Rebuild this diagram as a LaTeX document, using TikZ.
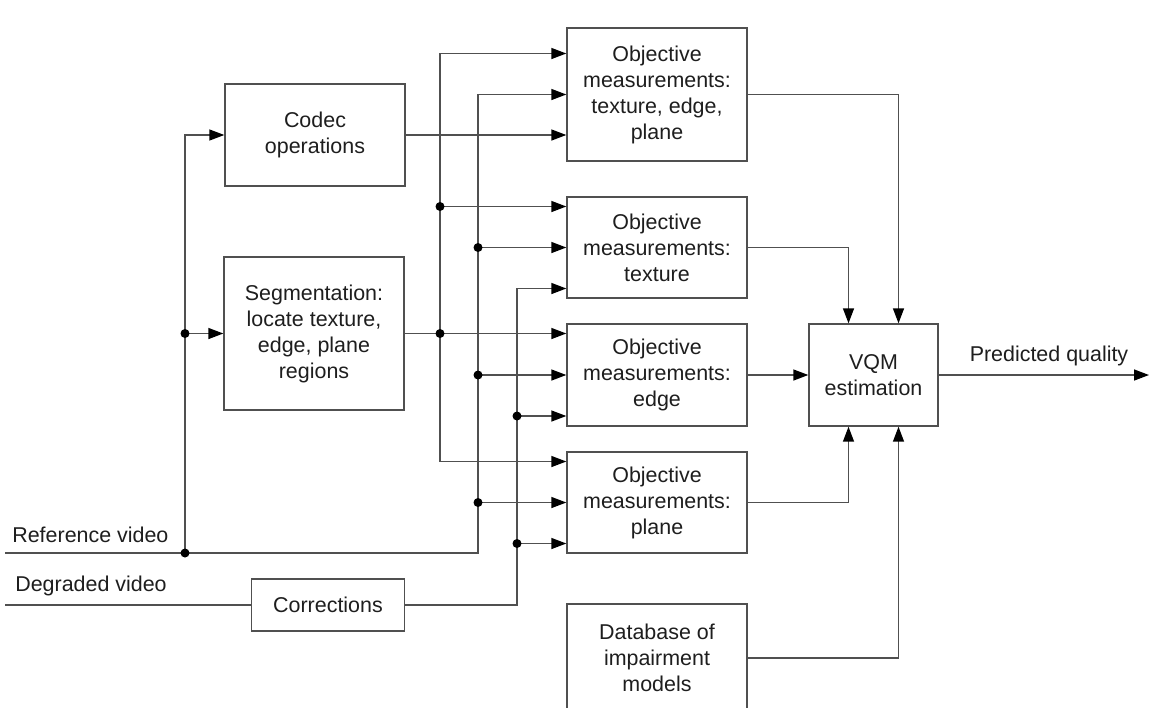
\documentclass[tikz,border=0pt]{standalone}
\usepackage{fontspec}
\setmainfont{Liberation Sans}
\usepackage{tikz}
\usetikzlibrary{arrows.meta, calc}
\definecolor{LineGray}{RGB}{80, 80, 80}
\definecolor{TextGray}{RGB}{30, 30, 30}

\begin{document}
\begin{tikzpicture}[
    x=0.02cm, y=-0.02cm,
    box/.style={
      rectangle, draw=LineGray, line width=0.8pt,
      text=TextGray, align=center, inner sep=2pt,
      font=\fontsize{12.2}{14.8}\selectfont
    },
    lbl/.style={text=TextGray, inner sep=0pt, font=\fontsize{12.2}{14.8}\selectfont},
    wire/.style={line width=0.8pt, color=LineGray},
    arr/.style={-{Triangle[length=0.3cm, width=0.22cm, color=black]}, line width=0.8pt, color=LineGray}
  ]
    \clip (0,0) rectangle (1149,707);
    \fill[white] (0,0) rectangle (1149,707);

    % processing blocks
    \node[box, minimum width=3.6cm,  minimum height=2.04cm] (codec) at (315,135)   {Codec\\operations};
    \node[box, minimum width=3.6cm,  minimum height=3.06cm] (seg)   at (314,333.5) {Segmentation:\\locate texture,\\edge, plane\\regions};
    \node[box, minimum width=3.06cm, minimum height=1.04cm] (corr)  at (328,605)   {Corrections};

    % measurement blocks
    \node[box, minimum width=3.6cm, minimum height=2.66cm] (obj1) at (657,94.5)  {Objective\\measurements:\\texture, edge,\\plane};
    \node[box, minimum width=3.6cm, minimum height=2.02cm] (obj2) at (657,247.5) {Objective\\measurements:\\texture};
    \node[box, minimum width=3.6cm, minimum height=2.04cm] (obj3) at (657,375)   {Objective\\measurements:\\edge};
    \node[box, minimum width=3.6cm, minimum height=2.02cm] (obj4) at (657,502.5) {Objective\\measurements:\\plane};
    \node[box, minimum width=3.6cm, minimum height=2.16cm] (db)   at (657,658)   {Database of\\impairment\\models};

    \node[box, minimum width=2.58cm, minimum height=2.04cm] (vqm) at (873.5,375) {VQM\\estimation};

    % input ports and bus lines
    \foreach \i in {1,...,4} {
      \coordinate (top\i) at ($(obj\i.west)+(0,-41)$);
      \coordinate (bot\i) at ($(obj\i.west)+(0,41)$);
    }
    \coordinate (split) at (185,0);
    \coordinate (sbus)  at (440,0);
    \coordinate (rbus)  at (478,0);
    \coordinate (dbus)  at (517,0);
    \coordinate (refin) at (5,553);
    \coordinate (degin) at (5,605);
    \coordinate (out)   at (1149,375);

    \node[lbl, anchor=west] (reflbl)  at (12,535)   {Reference video};
    \node[lbl, anchor=west] (deglbl)  at (15,586)   {Degraded video};
    \node[lbl]              (predlbl) at (1049,356) {Predicted quality};

    % reference video
    \draw[arr] (refin) -- (rbus |- refin) |- (obj1.west);
    \draw[arr] (split |- refin) |- (codec.west);
    \draw[arr] (split |- seg.west) -- (seg.west);
    \foreach \i in {2,3,4}
      \draw[arr] (rbus |- obj\i.west) -- (obj\i.west);

    % segmentation output
    \draw[arr] (seg.east) -- (seg.east -| obj3.west);
    \draw[arr] (sbus |- seg.east) |- (top1);
    \draw[arr] (sbus |- seg.east) |- (top4);
    \draw[arr] (sbus |- top2) -- (top2);

    % codec output
    \draw[arr] (codec.east) -- (codec.east -| obj1.west);

    % degraded video
    \draw[wire] (degin) -- (corr.west);
    \draw[arr] (corr.east) -- (dbus |- corr.east) |- (bot2);
    \foreach \i in {3,4}
      \draw[arr] (dbus |- bot\i) -- (bot\i);

    % junctions
    \foreach \p in {split |- refin, split |- seg.west, sbus |- seg.east, sbus |- top2,
                    rbus |- obj2.west, rbus |- obj3.west, rbus |- obj4.west,
                    dbus |- bot3, dbus |- bot4}
      \fill[black] (\p) circle[radius=0.09cm];

    % to the VQM block
    \draw[arr] (obj1.east) -| ($(vqm.north)+(25,0)$);
    \draw[arr] (obj2.east) -| ($(vqm.north)+(-25,0)$);
    \draw[arr] (obj3.east) -- (vqm.west);
    \draw[arr] (obj4.east) -| ($(vqm.south)+(-25,0)$);
    \draw[arr] (db.east)   -| ($(vqm.south)+(25,0)$);
    \draw[arr] (vqm.east)  -- (out);
  \end{tikzpicture}
\end{document}
